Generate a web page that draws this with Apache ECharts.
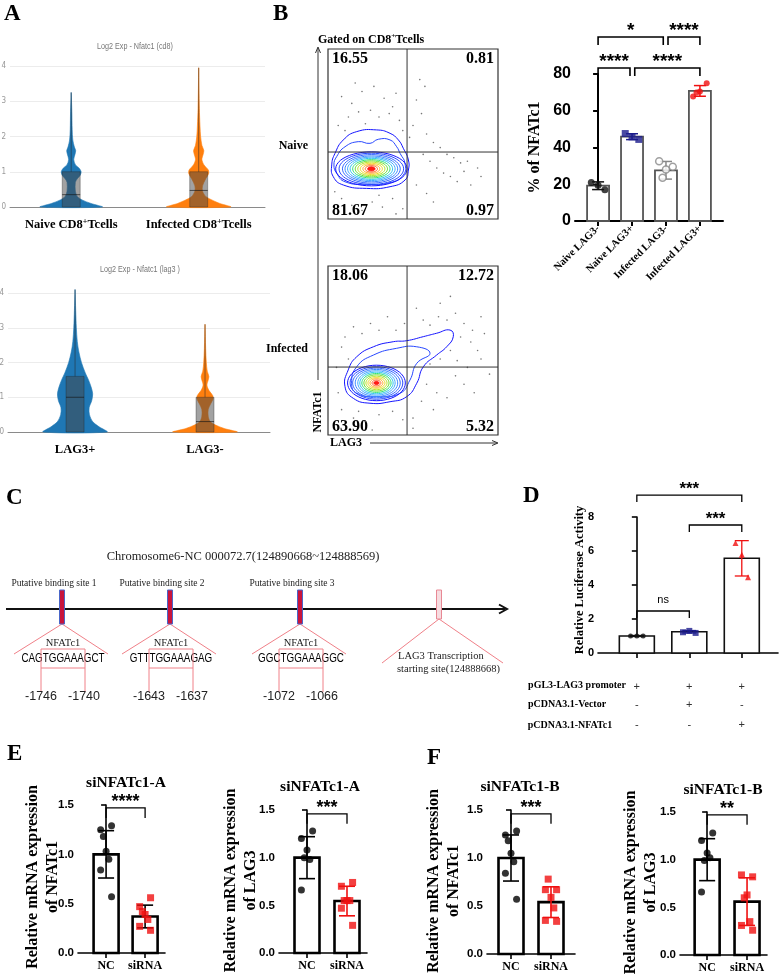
<!DOCTYPE html>
<html>
<head>
<meta charset="utf-8">
<title>NFATc1 regulates LAG3</title>
<script src="https://cdn.jsdelivr.net/npm/echarts@6.0.0/dist/echarts.min.js"></script>
<style>
  html, body { margin: 0; padding: 0; background: #fff; }
  #fig { width: 781px; height: 980px; }
</style>
</head>
<body>
<div id="fig"></div>
<script>
// ---------- values ----------

// A: violin profiles, [log2 expression, relative density]
var cd8Groups = ['Naive CD8⁺Tcells', 'Infected CD8⁺Tcells'];
var naiveCd8Density = [[0, 0.97], [0.1, 0.62], [0.2, 0.34], [0.3, 0.19], [0.45, 0.13], [0.7, 0.13], [0.8, 0.19], [0.9, 0.28], [1.0, 0.31], [1.1, 0.25], [1.2, 0.13], [1.35, 0.08], [1.5, 0.12], [1.6, 0.14], [1.7, 0.1], [1.9, 0.05], [2.2, 0.03], [2.7, 0.02], [3.25, 0]];
var infectedCd8Density = [[0, 1.0], [0.1, 0.66], [0.2, 0.41], [0.3, 0.22], [0.45, 0.12], [0.6, 0.12], [0.8, 0.22], [0.95, 0.31], [1.05, 0.3], [1.2, 0.16], [1.35, 0.1], [1.5, 0.14], [1.6, 0.16], [1.75, 0.1], [2.0, 0.06], [2.3, 0.04], [2.8, 0.02], [3.95, 0]];
var lag3Groups = ['LAG3+', 'LAG3-'];
var lag3PosDensity = [[0, 1.0], [0.15, 0.75], [0.3, 0.55], [0.5, 0.45], [0.7, 0.44], [0.9, 0.52], [1.1, 0.55], [1.3, 0.5], [1.5, 0.42], [1.7, 0.32], [2.0, 0.2], [2.3, 0.12], [2.6, 0.07], [3.0, 0.04], [3.5, 0.02], [4.1, 0]];
var lag3NegDensity = [[0, 1.0], [0.1, 0.6], [0.2, 0.33], [0.3, 0.16], [0.45, 0.1], [0.65, 0.1], [0.8, 0.17], [0.95, 0.25], [1.05, 0.24], [1.2, 0.12], [1.35, 0.06], [1.5, 0.1], [1.6, 0.12], [1.75, 0.07], [2.0, 0.04], [2.4, 0.02], [3.1, 0]];
// box: [q1, median, q3, max]
var naiveCd8Box = [0, 0.35, 1.0, 3.25];
var infectedCd8Box = [0, 0.47, 1.0, 3.95];
var lag3PosBox = [0, 1.0, 1.6, 4.1];
var lag3NegBox = [0, 0.3, 1.0, 3.1];

// B: flow plots (LAG3 x NFATc1, 0-100 display units)
var naiveQuadrants = ['16.55', '0.81', '81.67', '0.97'];
var infectedQuadrants = ['18.06', '12.72', '63.90', '5.32'];
var naiveGate = [46.5, 39.4];
var infectedGate = [46.5, 40.2];
var naiveCenter = [25.5, 29.5];
var naiveRings = [[21, 10], [19, 9.2], [17, 8.4], [15.5, 7.6], [14, 6.9], [12.5, 6.2], [11, 5.4], [9.5, 4.7], [8, 4], [6.5, 3.3], [5, 2.6], [3.6, 1.9], [2.2, 1.2]];
var naiveOuter = [[9, 46.5], [16.9, 51.4], [28.6, 52.4], [36.5, 50.4], [41.4, 46.5], [44.3, 41.6], [47.3, 34.7], [47.3, 28.8], [45.3, 22.9], [36.5, 19], [22.7, 18], [9, 20], [3.1, 24.9], [2.2, 31.8], [4.1, 38.6]];
var naiveInner = [[5.1, 36.7], [10, 42.5], [17.8, 45.5], [24.7, 44.5], [29.6, 46.9], [36.5, 46.5], [40.4, 42.5], [42.4, 38.6], [45.3, 32.7], [44.3, 25.9], [36.5, 21.4], [22.7, 20.4], [10, 21.9], [5.1, 26.9], [3.5, 31.8]];
var naiveDots = [[8, 72], [14, 68], [20, 75], [27, 78], [33, 71], [38, 66], [12, 60], [18, 63], [25, 64], [30, 60], [36, 62], [42, 58], [6, 55], [10, 52], [22, 56], [44, 52], [16, 80], [40, 74],
  [50, 55], [55, 62], [58, 50], [62, 45], [66, 42], [70, 38], [74, 36], [78, 33], [82, 34], [88, 30], [56, 38], [60, 34], [64, 30], [68, 27], [72, 25], [76, 22], [80, 28], [84, 20], [90, 25],
  [52, 20], [58, 15], [62, 10], [48, 48], [52, 70], [57, 78], [54, 82], [8, 12], [14, 8], [20, 5], [26, 10], [32, 7], [38, 12], [44, 6], [4, 16], [30, 14], [40, 3]];
var infectedCenter = [28.5, 30.8];
var infectedRings = [[17, 10.5], [15.5, 9.6], [14, 8.8], [12.5, 8], [11, 7.2], [9.8, 6.4], [8.6, 5.6], [7.4, 4.8], [6.2, 4], [5, 3.2], [3.8, 2.5], [2.6, 1.7], [1.5, 1]];
var infectedOuter = [[10, 28.6], [11.9, 38.5], [16.9, 46.3], [26.7, 52.2], [38.4, 55.2], [46.3, 55.8], [56.1, 58.2], [63.9, 60.2], [71.8, 62.1], [73.7, 58.2], [69.8, 52.2], [63.9, 47.3], [56.1, 40.4], [52.2, 30.6], [46.3, 22.7], [36.5, 19.7], [24.7, 18.8], [14.9, 21.7]];
var infectedInner = [[13.9, 30.6], [16.9, 40.4], [26.7, 47.3], [40.4, 51.3], [52.2, 52.2], [60, 48.3], [52.2, 42.4], [48.2, 32.5], [42.4, 24.7], [28.6, 22.7], [16.9, 24.7]];
var infectedDots = [[60, 65], [65, 70], [70, 68], [75, 72], [80, 66], [85, 62], [90, 70], [78, 58], [84, 55], [88, 50], [92, 60], [72, 50], [66, 45], [60, 42], [76, 44], [82, 40], [58, 30], [64, 25], [70, 22], [75, 35], [80, 30], [86, 25], [55, 20], [62, 15], [50, 10],
  [56, 68], [52, 75], [45, 66], [40, 62], [35, 70], [30, 62], [25, 66], [20, 60], [15, 64], [10, 58], [8, 52], [12, 45], [5, 40], [6, 25], [8, 15], [15, 10], [22, 8], [30, 12], [38, 14], [44, 9], [50, 4], [18, 14], [26, 3], [66, 78], [72, 82], [90, 45], [95, 36]];

// B: % of NFATc1
var nfatGroups = ['Naive LAG3-', 'Naive LAG3+', 'Infected LAG3-', 'Infected LAG3+'];
var nfatMeans = [19.2, 45.9, 27.6, 70.8];
var nfatSd = [2.1, 1.6, 4.8, 2.9];
var nfatPoints = [[19.5, 21, 17], [45.8, 47.6, 44.4], [28, 32.5, 29.5, 23.5], [70.5, 67.7, 75, 70]];
var nfatSig = [[0, 0.94, 83.3, '****'], [1.08, 3, 83.3, '****'], [0, 1.92, 100.1, '*'], [2.06, 3, 100.1, '****']];

// C: LAG3 promoter
var chromLabel = 'Chromosome6-NC 000072.7(124890668~124888569)';
var siteNames = ['Putative binding site 1', 'Putative binding site 2', 'Putative binding site 3'];
var siteSeqs = [['CAG', 'TGGAAA', 'GCT'], ['GTT', 'TGGAAA', 'GAG'], ['GGC', 'TGGAAA', 'GGC']];
var siteCoords = [[-1746, -1740], [-1643, -1637], [-1072, -1066]];
var tssLabel = ['LAG3 Transcription', 'starting site(124888668)'];

// D: luciferase
var lucMeans = [1.0, 1.25, 5.57];
var lucSd = [0.03, 0.07, 1.04];
var lucPoints = [[1.0, 1.0, 1.0], [1.3, 1.22, 1.18], [5.78, 6.47, 4.45]];
var lucSig = [[0, 2, 9.29, '***'], [1, 2, 7.53, '***'], [0, 1, 2.47, 'ns']];
var lucRows = ['pGL3-LAG3 promoter', 'pCDNA3.1-Vector', 'pCDNA3.1-NFATc1'];
var lucDesign = [['+', '+', '+'], ['-', '+', '-'], ['-', '-', '+']];

// E / F: qPCR
var qGroups = ['NC', 'siRNA'];
var eNfatMeans = [1.0, 0.37], eNfatSd = [0.24, 0.115];
var eNfatPoints = [[1.03, 1.25, 1.29, 1.18, 0.95, 0.84, 0.57], [0.39, 0.47, 0.56, 0.42, 0.34, 0.27, 0.23]];
var eLagMeans = [1.0, 0.545], eLagSd = [0.22, 0.155];
var eLagPoints = [[1.08, 1.2, 1.28, 1.0, 0.98, 0.66], [0.55, 0.7, 0.74, 0.55, 0.55, 0.47, 0.29]];
var fNfatMeans = [1.0, 0.54], fNfatSd = [0.24, 0.16];
var fNfatPoints = [[1.05, 1.24, 1.28, 1.18, 0.96, 0.84, 0.57], [0.59, 0.67, 0.67, 0.78, 0.48, 0.35, 0.34]];
var fLagMeans = [1.0, 0.56], fLagSd = [0.22, 0.25];
var fLagPoints = [[1.07, 1.2, 1.28, 0.99, 1.02, 0.66], [0.63, 0.84, 0.82, 0.6, 0.35, 0.31, 0.26]];

// ---------- styling ----------
var SERIF = '"Liberation Serif","Times New Roman",serif';
var SANS = '"Liberation Sans",Arial,sans-serif';
var NARROW = '"Liberation Sans Narrow","DejaVu Sans Condensed","Liberation Sans",sans-serif';
var PINK = '#f08088';
var contourPalette = ['#1414ff', '#2848ff', '#3468ff', '#3c88ff', '#40a8ff', '#30c4f0', '#22d8c0', '#30e07a', '#6ee034', '#b8e424', '#eed820', '#ffa81e', '#ff5a1a', '#ff1a14'];
var jitter = [0, -1, 1, -0.5, 0.5, -1, 1];

function supRich(s) {
  return s.split('⁺').map(function (p) { return p ? '{b|' + p + '}' : ''; }).join('{s|+}');
}
function richFor(size) {
  return {
    b: { fontFamily: SERIF, fontWeight: 'bold', fontSize: size, color: '#000', lineHeight: size + 2 },
    s: { fontFamily: SERIF, fontWeight: 'bold', fontSize: Math.round(size * 0.62), color: '#000', verticalAlign: 'top', lineHeight: size + 2 }
  };
}

var grids = [
  { left: 10, top: 66, width: 255, height: 141 },   // A top
  { left: 8, top: 293, width: 262, height: 139 },   // A bottom
  { left: 328, top: 49, width: 170, height: 170 },  // B naive flow
  { left: 328, top: 266, width: 170, height: 169 }, // B infected flow
  { left: 575, top: 74, width: 148, height: 147 },  // B bars
  { left: 598, top: 517, width: 180, height: 136 }, // D
  { left: 78, top: 805, width: 87, height: 148 },   // E left
  { left: 279, top: 810, width: 88, height: 143 },  // E right
  { left: 487, top: 810, width: 88, height: 144 },  // F left
  { left: 680, top: 812, width: 87, height: 143 }   // F right
];

var xAxes = [], yAxes = [], series = [], graphics = [];

// ---------- free text helpers ----------
function text(x, y, s, font, align, extra) {
  var el = { type: 'text', x: x, y: y, silent: true,
    style: { text: s, font: font, fill: '#000', align: align || 'left', verticalAlign: 'middle' } };
  if (extra) {
    for (var k in extra) {
      if (k === 'rotation' || k === 'scaleX') el[k] = extra[k]; else el.style[k] = extra[k];
    }
  }
  return el;
}
function seg(x1, y1, x2, y2, color, w) {
  return { type: 'line', silent: true, shape: { x1: x1, y1: y1, x2: x2, y2: y2 }, style: { stroke: color, lineWidth: w } };
}
function chevron(pts, color, w) {
  return { type: 'polyline', silent: true, shape: { points: pts }, style: { stroke: color, lineWidth: w, fill: 'none' } };
}

// ---------- A: violins ----------
function violinAxes(g, min, max, names) {
  xAxes.push({
    type: 'value', gridIndex: g, min: min, max: max,
    axisLine: { show: true, onZero: false, lineStyle: { color: '#8a8a8a', width: 1 } },
    axisTick: { show: false }, splitLine: { show: false },
    axisLabel: { customValues: [0, 1], margin: 11, formatter: function (v) { return supRich(names[Math.round(v)]); }, rich: richFor(12.5) }
  });
  yAxes.push({
    type: 'value', gridIndex: g, min: 0, max: 4, interval: 1,
    axisLine: { show: false }, axisTick: { show: false },
    axisLabel: { color: '#999', fontFamily: NARROW, fontSize: 8, margin: 4 },
    splitLine: { lineStyle: { color: '#ececec', width: 1 } }
  });
}
function violin(g, xi, density, box, color) {
  return {
    type: 'custom', xAxisIndex: g, yAxisIndex: g, silent: true, z: 3,
    data: [[xi, box[3]]], encode: { x: 0, y: 1 },
    renderItem: function (params, api) {
      var cx = api.coord([xi, 0])[0];
      var right = [], left = [];
      density.forEach(function (d) {
        var y = api.coord([xi, d[0]])[1];
        right.push([cx + d[1] * 32, y]);
        left.unshift([cx - d[1] * 32, y]);
      });
      var q1 = api.coord([xi, box[0]])[1], med = api.coord([xi, box[1]])[1];
      var q3 = api.coord([xi, box[2]])[1], top = api.coord([xi, box[3]])[1];
      return {
        type: 'group', children: [
          { type: 'polygon', shape: { points: right.concat(left), smooth: 0.3 }, style: { fill: color, stroke: color, lineWidth: 0.6 } },
          { type: 'line', shape: { x1: cx, y1: q3, x2: cx, y2: top }, style: { stroke: 'rgba(40,40,40,0.65)', lineWidth: 0.8 } },
          { type: 'rect', shape: { x: cx - 9, y: q3, width: 18, height: q1 - q3 }, style: { fill: 'rgba(70,70,70,0.5)', stroke: 'rgba(30,30,30,0.55)', lineWidth: 0.6 } },
          { type: 'line', shape: { x1: cx - 9, y1: med, x2: cx + 9, y2: med }, style: { stroke: 'rgba(20,20,20,0.8)', lineWidth: 0.8 } }
        ]
      };
    }
  };
}
violinAxes(0, -0.48, 1.52, cd8Groups);
violinAxes(1, -0.516, 1.5, lag3Groups);
series.push(violin(0, 0, naiveCd8Density, naiveCd8Box, '#1f77b4'));
series.push(violin(0, 1, infectedCd8Density, infectedCd8Box, '#ff7f0e'));
series.push(violin(1, 0, lag3PosDensity, lag3PosBox, '#1f77b4'));
series.push(violin(1, 1, lag3NegDensity, lag3NegBox, '#ff7f0e'));

// ---------- B: flow plots ----------
function flowPanel(g, gate, center, rings, outer, inner, dots) {
  xAxes.push({ type: 'value', gridIndex: g, min: 0, max: 100, show: false });
  yAxes.push({ type: 'value', gridIndex: g, min: 0, max: 100, show: false });
  series.push({
    type: 'scatter', xAxisIndex: g, yAxisIndex: g, silent: true, data: dots,
    symbol: 'circle', symbolSize: 1.6, itemStyle: { color: '#555' }
  });
  [outer, inner].forEach(function (ring, k) {
    series.push({
      type: 'custom', xAxisIndex: g, yAxisIndex: g, silent: true, data: [0],
      renderItem: function (params, api) {
        return { type: 'polygon', shape: { points: ring.map(function (p) { return api.coord(p); }), smooth: 0.5 },
          style: { fill: 'none', stroke: contourPalette[k], lineWidth: 1 } };
      }
    });
  });
  series.push({
    type: 'custom', xAxisIndex: g, yAxisIndex: g, silent: true,
    data: rings.map(function (r, i) { return [center[0], center[1], r[0], r[1], i]; }),
    renderItem: function (params, api) {
      var cx = api.value(0), cy = api.value(1), rx = api.value(2), ry = api.value(3), i = api.value(4);
      var pts = [];
      for (var k = 0; k < 48; k++) {
        var a = k / 48 * Math.PI * 2;
        pts.push(api.coord([cx + rx * Math.cos(a), cy + ry * Math.sin(a)]));
      }
      var col = contourPalette[Math.round(i / (rings.length - 1) * (contourPalette.length - 1))];
      return { type: 'polygon', shape: { points: pts }, style: { fill: i === rings.length - 1 ? col : 'none', stroke: col, lineWidth: 1 } };
    }
  });
  series.push({
    type: 'custom', xAxisIndex: g, yAxisIndex: g, silent: true, data: [gate], z: 5,
    renderItem: function (params, api) {
      var lo = api.coord([0, 0]), hi = api.coord([100, 100]), c = api.coord(gate);
      return { type: 'group', children: [
        { type: 'line', shape: { x1: c[0], y1: lo[1], x2: c[0], y2: hi[1] }, style: { stroke: '#333', lineWidth: 1 } },
        { type: 'line', shape: { x1: lo[0], y1: c[1], x2: hi[0], y2: c[1] }, style: { stroke: '#333', lineWidth: 1 } }
      ] };
    }
  });
}
flowPanel(2, naiveGate, naiveCenter, naiveRings, naiveOuter, naiveInner, naiveDots);
flowPanel(3, infectedGate, infectedCenter, infectedRings, infectedOuter, infectedInner, infectedDots);

// ---------- bar + dot charts ----------
function statChart(g, cfg) {
  var idx = cfg.means.map(function (m, i) { return i; });
  xAxes.push({
    type: 'value', gridIndex: g, min: cfg.xRange[0], max: cfg.xRange[1], splitLine: { show: false },
    axisLine: { show: true, onZero: false, lineStyle: { color: '#000', width: cfg.axisWidth } },
    axisTick: { show: true, customValues: idx, length: 5, lineStyle: { color: '#000', width: cfg.axisWidth } },
    axisLabel: cfg.labels ? Object.assign({ customValues: idx, formatter: function (v) { return cfg.labels[Math.round(v)]; } }, cfg.labelStyle) : { show: false }
  });
  yAxes.push({
    type: 'value', gridIndex: g, min: 0, max: cfg.yMax, interval: cfg.yStep,
    axisLine: { show: true, lineStyle: { color: '#000', width: cfg.axisWidth } },
    axisTick: { show: true, length: 5, lineStyle: { color: '#000', width: cfg.axisWidth } },
    splitLine: { show: false },
    axisLabel: { color: '#000', fontFamily: SANS, fontWeight: 'bold', fontSize: cfg.tickFont, margin: 4, formatter: cfg.tickFormat }
  });
  // axis title, centred on the grid height
  var gr = grids[g];
  graphics.push(text(cfg.nameX, gr.top + gr.height / 2 + cfg.nameDy, cfg.yName, 'bold ' + cfg.nameFont + 'px ' + SERIF, 'center',
    { rotation: Math.PI / 2, lineHeight: cfg.nameFont + 4 }));
  series.push({
    type: 'custom', xAxisIndex: g, yAxisIndex: g, silent: true, z: 2,
    data: cfg.means.map(function (m, i) { return [i, m]; }),
    renderItem: function (params, api) {
      var a = api.coord([api.value(0), 0]), b = api.coord([api.value(0), api.value(1)]);
      return { type: 'rect', shape: { x: a[0] - cfg.barWidth / 2, y: b[1], width: cfg.barWidth, height: a[1] - b[1] },
        style: { fill: '#fff', stroke: cfg.barStroke, lineWidth: cfg.barLine } };
    }
  });
  series.push({
    type: 'custom', xAxisIndex: g, yAxisIndex: g, silent: true, z: 4,
    data: cfg.means.map(function (m, i) { return [i, m, cfg.sds[i]]; }),
    renderItem: function (params, api) {
      var i = api.value(0), m = api.value(1), s = api.value(2);
      var t = api.coord([i, m + s]), b = api.coord([i, m - s]), w = cfg.capWidth / 2;
      var st = { stroke: cfg.styles[i].err, lineWidth: cfg.errLine };
      return { type: 'group', children: [
        { type: 'line', shape: { x1: t[0], y1: t[1], x2: b[0], y2: b[1] }, style: st },
        { type: 'line', shape: { x1: t[0] - w, y1: t[1], x2: t[0] + w, y2: t[1] }, style: st },
        { type: 'line', shape: { x1: b[0] - w, y1: b[1], x2: b[0] + w, y2: b[1] }, style: st }
      ] };
    }
  });
  cfg.points.forEach(function (vals, i) {
    var st = cfg.styles[i];
    series.push({
      type: 'scatter', xAxisIndex: g, yAxisIndex: g, silent: true, z: 5,
      data: vals.map(function (v, k) { return [i + jitter[k % jitter.length] * cfg.spread, v]; }),
      symbol: st.symbol, symbolSize: st.size,
      itemStyle: st.open ? { color: '#fff', borderColor: st.color, borderWidth: 1.5 } : { color: st.color }
    });
  });
  series.push({
    type: 'custom', xAxisIndex: g, yAxisIndex: g, silent: true, z: 5,
    data: cfg.sig.map(function (s, k) { return [s[0], s[1], s[2], k]; }),
    renderItem: function (params, api) {
      var s = cfg.sig[api.value(3)];
      var l = api.coord([s[0], s[2]]), r = api.coord([s[1], s[2]]), d = cfg.drop;
      var isNs = s[3] === 'ns';
      return { type: 'group', children: [
        { type: 'polyline', shape: { points: [[l[0], l[1] + d], [l[0], l[1]], [r[0], r[1]], [r[0], r[1] + d]] }, style: { fill: 'none', stroke: '#000', lineWidth: cfg.sigLine } },
        { type: 'text', x: (l[0] + r[0]) / 2, y: l[1] - (isNs ? 11 : 6),
          style: { text: s[3], fill: '#000', align: 'center', verticalAlign: 'middle',
            font: isNs ? '11px ' + SANS : 'bold ' + cfg.starFont + 'px ' + SANS } }
      ] };
    }
  });
}

statChart(4, {
  means: nfatMeans, sds: nfatSd, points: nfatPoints, sig: nfatSig, xRange: [-0.68, 3.68],
  labels: nfatGroups, labelStyle: { rotate: 45, margin: 6, fontFamily: SERIF, fontWeight: 'bold', fontSize: 10.5, color: '#000' },
  yMax: 80, yStep: 20, tickFont: 16, axisWidth: 2, yName: '% of NFATc1', nameX: 535, nameDy: 0, nameFont: 16,
  barWidth: 22, barStroke: '#555', barLine: 1.8, capWidth: 12, errLine: 1.5, spread: 0.2, drop: 8, sigLine: 1.6, starFont: 19,
  styles: [
    { symbol: 'circle', size: 7, color: '#111', err: '#111' },
    { symbol: 'rect', size: 7, color: '#1c1c8c', err: '#1c1c8c' },
    { symbol: 'circle', size: 7, color: '#888', err: '#888', open: true },
    { symbol: 'circle', size: 6, color: '#f01010', err: '#f01010' }
  ]
});
statChart(5, {
  means: lucMeans, sds: lucSd, points: lucPoints, sig: lucSig, xRange: [-0.74, 2.69],
  yMax: 8, yStep: 2, tickFont: 11, axisWidth: 1.6, yName: 'Relative Luciferase Activity', nameX: 580, nameDy: -5, nameFont: 12.5,
  barWidth: 35, barStroke: '#111', barLine: 1.6, capWidth: 14, errLine: 1.3, spread: 0.12, drop: 7, sigLine: 1.3, starFont: 17,
  styles: [
    { symbol: 'circle', size: 5, color: '#111', err: '#111' },
    { symbol: 'rect', size: 6, color: '#1c1c8c', err: '#1c1c8c' },
    { symbol: 'triangle', size: 6, color: '#f01010', err: '#f01010' }
  ]
});
var qStyles = function (errRed) {
  return [
    { symbol: 'circle', size: 7, color: '#000', err: '#000' },
    { symbol: 'rect', size: 7, color: '#f01010', err: errRed ? '#f01010' : '#000' }
  ];
};
var qBase = {
  labels: qGroups, labelStyle: { margin: 7, fontFamily: SERIF, fontWeight: 'bold', fontSize: 12, color: '#000' },
  yMax: 1.5, yStep: 0.5, tickFont: 11.5, tickFormat: function (v) { return v.toFixed(1); }, axisWidth: 1.6, nameFont: 16,
  barWidth: 25, barStroke: '#000', barLine: 2.6, capWidth: 16, errLine: 1.6, spread: 0.14, drop: 10, sigLine: 1.3, starFont: 18
};
statChart(6, Object.assign({}, qBase, { means: eNfatMeans, sds: eNfatSd, points: eNfatPoints, sig: [[0, 1, 1.47, '****']], xRange: [-0.72, 1.51],
  yName: 'Relative mRNA expression\nof NFATc1', nameX: 43, nameDy: -2, styles: qStyles(false) }));
statChart(7, Object.assign({}, qBase, { means: eLagMeans, sds: eLagSd, points: eLagPoints, sig: [[0, 1, 1.46, '***']], xRange: [-0.7, 1.5],
  yName: 'Relative mRNA expression\nof LAG3', nameX: 241, nameDy: -1, styles: qStyles(true) }));
statChart(8, Object.assign({}, qBase, { means: fNfatMeans, sds: fNfatSd, points: fNfatPoints, sig: [[0, 1, 1.46, '***']], xRange: [-0.6, 1.6],
  yName: 'Relative mRNA expression\nof NFATc1', nameX: 444, nameDy: -1, styles: qStyles(true) }));
statChart(9, Object.assign({}, qBase, { means: fLagMeans, sds: fLagSd, points: fLagPoints, sig: [[0, 1, 1.47, '**']], xRange: [-0.68, 1.5],
  yName: 'Relative mRNA expression\nof LAG3', nameX: 641, nameDy: -1, styles: qStyles(true) }));

// D: design table under the luciferase bars
series.push({
  type: 'custom', xAxisIndex: 5, yAxisIndex: 5, silent: true,
  data: [].concat.apply([], lucDesign.map(function (row, r) { return row.map(function (s, c) { return [c, r]; }); })),
  renderItem: function (params, api) {
    var c = api.value(0), r = api.value(1);
    var p = api.coord([c, 0]);
    return { type: 'text', x: p[0], y: p[1] + [34, 52, 72][r],
      style: { text: lucDesign[r][c], font: '11px ' + SANS, fill: '#333', align: 'center', verticalAlign: 'middle' } };
  }
});

var LETTER = 'bold 23px ' + SERIF;
[['A', 4, 14], ['B', 273, 14.5], ['C', 6, 498], ['D', 523, 496.5], ['E', 7, 754.5], ['F', 427, 758.5]].forEach(function (l) {
  graphics.push(text(l[1], l[2], l[0], LETTER, 'left'));
});

// A titles (condensed grey captions)
graphics.push(text(135, 47, 'Log2 Exp - Nfatc1 (cd8)', '9px ' + SANS, 'center', { fill: '#777', scaleX: 0.8 }));
graphics.push(text(140, 270, 'Log2 Exp - Nfatc1 (lag3 )', '9px ' + SANS, 'center', { fill: '#777', scaleX: 0.8 }));

// B flow annotations
var B12 = 'bold 12px ' + SERIF;
graphics.push(text(318, 40, supRich('Gated on CD8⁺Tcells'), B12, 'left', { rich: richFor(12) }));
graphics.push(text(308, 146, 'Naive', B12, 'right'));
graphics.push(text(308, 349, 'Infected', B12, 'right'));
graphics.push(seg(318, 380, 318, 48, '#333', 1));
graphics.push(chevron([[315.5, 53], [318, 47], [320.5, 53]], '#333', 1));
graphics.push(text(318, 412, 'NFATc1', B12, 'center', { rotation: Math.PI / 2 }));
graphics.push(text(330, 443, 'LAG3', B12, 'left'));
graphics.push(seg(370, 443, 497, 443, '#333', 1));
graphics.push(chevron([[492, 440.5], [498, 443], [492, 445.5]], '#333', 1));
var flowBoxes = [[328, 49, 170, 170, naiveQuadrants], [328, 266, 170, 169, infectedQuadrants]];
flowBoxes.forEach(function (b) {
  graphics.push({ type: 'rect', silent: true, z: 10, shape: { x: b[0], y: b[1], width: b[2], height: b[3] }, style: { fill: 'none', stroke: '#333', lineWidth: 1.2 } });
  var F16 = 'bold 16px ' + SERIF;
  graphics.push(text(b[0] + 4, b[1] + 10, b[4][0], F16, 'left'));
  graphics.push(text(b[0] + b[2] - 4, b[1] + 10, b[4][1], F16, 'right'));
  graphics.push(text(b[0] + 4, b[1] + b[3] - 8, b[4][2], F16, 'left'));
  graphics.push(text(b[0] + b[2] - 4, b[1] + b[3] - 8, b[4][3], F16, 'right'));
});

// C: promoter diagram
var siteX = [62, 170, 300], tssX = 439, axisY = 609;
graphics.push(text(243, 557, chromLabel, '12.5px ' + SERIF, 'center', { fill: '#222' }));
graphics.push(seg(6, axisY, 505, axisY, '#111', 2.2));
graphics.push(chevron([[499, axisY - 4.5], [507, axisY], [499, axisY + 4.5]], '#111', 2));
siteX.forEach(function (x, i) {
  graphics.push(text(x - 8, 583, siteNames[i], '9.5px ' + SERIF, 'center', { fill: '#222' }));
  graphics.push(seg(x, 624, x - 48, 654, PINK, 1));
  graphics.push(seg(x, 624, x + 46, 654, PINK, 1));
  graphics.push({ type: 'rect', silent: true, z: 5, shape: { x: x - 2.5, y: 590, width: 5, height: 34 }, style: { fill: '#c8143c', stroke: '#4a66c8', lineWidth: 1 } });
  graphics.push(text(x + 1, 643, 'NFATc1', '10.5px ' + SERIF, 'center', { fill: '#222' }));
  var sq = siteSeqs[i];
  graphics.push(text(x + 1, 659, '{k|' + sq[0] + '}{r|' + sq[1] + '}{k|' + sq[2] + '}', '12px ' + SANS, 'center', {
    scaleX: 0.82,
    rich: { k: { fontFamily: SANS, fontSize: 12, color: '#111' }, r: { fontFamily: SANS, fontSize: 12, color: '#ee1c24' } } }));
  graphics.push({ type: 'rect', silent: true, shape: { x: x - 21, y: 649, width: 44, height: 19 }, style: { fill: 'none', stroke: PINK, lineWidth: 1 } });
  graphics.push(seg(x - 21, 668, x - 21, 692, PINK, 1));
  graphics.push(seg(x + 23, 668, x + 23, 692, PINK, 1));
  graphics.push(text(x - 21, 697, String(siteCoords[i][0]), '12.5px ' + SANS, 'center', { fill: '#222' }));
  graphics.push(text(x + 22, 697, String(siteCoords[i][1]), '12.5px ' + SANS, 'center', { fill: '#222' }));
});
graphics.push(seg(tssX, 619, tssX - 57, 663, PINK, 1));
graphics.push(seg(tssX, 619, tssX + 64, 663, PINK, 1));
graphics.push({ type: 'rect', silent: true, z: 5, shape: { x: tssX - 2.5, y: 590, width: 5, height: 29 }, style: { fill: '#f6dce0', stroke: '#e88894', lineWidth: 1 } });
graphics.push(text(398, 656, tssLabel[0], '10.5px ' + SERIF, 'left', { fill: '#222' }));
graphics.push(text(397, 669, tssLabel[1], '10.5px ' + SERIF, 'left', { fill: '#222' }));

// D table row labels
var T10 = 'bold 10px ' + SERIF;
graphics.push(text(577, 685, lucRows[0], T10, 'center'));
graphics.push(text(567, 704, lucRows[1], T10, 'center'));
graphics.push(text(570, 725, lucRows[2], T10, 'center'));

// E / F titles
var T15 = 'bold 15.5px ' + SERIF;
graphics.push(text(126, 783, 'siNFATc1-A', T15, 'center'));
graphics.push(text(320, 787, 'siNFATc1-A', T15, 'center'));
graphics.push(text(520, 787, 'siNFATc1-B', T15, 'center'));
graphics.push(text(723, 790, 'siNFATc1-B', T15, 'center'));

var chart = echarts.init(document.getElementById('fig'), null, { renderer: 'canvas' });
chart.setOption({
  animation: false,
  backgroundColor: '#fff',
  grid: grids.map(function (g) { return Object.assign({ containLabel: false, outerBoundsMode: 'none' }, g); }),
  xAxis: xAxes,
  yAxis: yAxes,
  series: series,
  graphic: { elements: graphics }
});
window.addEventListener('resize', function () { chart.resize(); });
</script>
</body>
</html>
